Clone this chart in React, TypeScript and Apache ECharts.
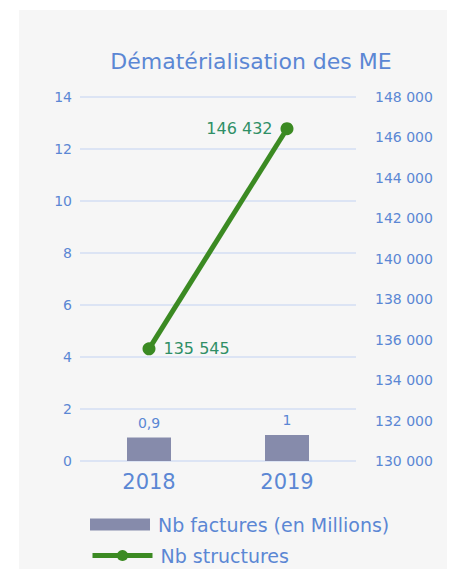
import React, { useEffect, useRef } from "react";
import * as echarts from "echarts";

const categories = ["2018", "2019"];
const factures = [0.9, 1];
const structures = [135545, 146432];
const titleText = "Dématérialisation des ME";
const barName = "Nb factures (en Millions)";
const lineName = "Nb structures";

const BLUE = "#5b87d4";
const GREEN = "#3b8a22";
const FONT = "DejaVu Sans, Verdana, sans-serif";

const fmtThousands = (v: number) =>
  String(Math.round(v)).replace(/\B(?=(\d{3})+(?!\d))/g, " ");

export default function App() {
  const ref = useRef<HTMLDivElement>(null);
  useEffect(() => {
    if (!ref.current) return;
    const chart = echarts.init(ref.current, undefined, { renderer: "svg" });
    const legendText = { color: BLUE, fontSize: 19, fontFamily: FONT, padding: [0, 0, 0, 3] };
    chart.setOption({
      animation: false,
      textStyle: { fontFamily: FONT },
      graphic: [
        {
          type: "rect",
          shape: { x: 19, y: 10, width: 428, height: 570 },
          style: { fill: "#f6f6f6" },
          z: -10,
        },
      ],
      title: {
        text: titleText,
        left: 246,
        top: 45,
        textAlign: "center",
        textStyle: { color: BLUE, fontSize: 22, fontWeight: "normal", fontFamily: FONT },
      },
      grid: { left: 80, right: 99, top: 97, bottom: 108, containLabel: false },
      legend: [
        {
          left: 90,
          top: 515,
          padding: 0,
          itemWidth: 60,
          itemHeight: 12,
          textStyle: legendText,
          data: [{ name: barName, icon: "rect" }],
        },
        {
          left: 90,
          top: 546,
          padding: 0,
          itemWidth: 60,
          itemHeight: 14,
          textStyle: legendText,
          data: [
            {
              name: lineName,
              lineStyle: { color: GREEN, width: 5 },
              itemStyle: { color: GREEN },
            },
          ],
        },
      ],
      xAxis: {
        type: "category",
        data: categories,
        axisLine: { show: false },
        axisTick: { show: false },
        axisLabel: { color: BLUE, fontSize: 21, margin: 10, fontFamily: FONT },
      },
      yAxis: [
        {
          type: "value",
          min: 0,
          max: 14,
          interval: 2,
          axisLine: { show: false },
          axisTick: { show: false },
          axisLabel: { color: BLUE, fontSize: 14, margin: 8, fontFamily: FONT },
          splitLine: { lineStyle: { color: "#dce4f4", width: 2 } },
        },
        {
          type: "value",
          min: 130000,
          max: 148000,
          interval: 2000,
          axisLine: { show: false },
          axisTick: { show: false },
          axisLabel: {
            color: BLUE,
            fontSize: 14,
            margin: 19,
            fontFamily: FONT,
            formatter: (v: number) => fmtThousands(v),
          },
          splitLine: { show: false },
        },
      ],
      series: [
        {
          name: barName,
          type: "bar",
          data: factures,
          yAxisIndex: 0,
          barWidth: 44,
          itemStyle: { color: "#868bab" },
          label: {
            show: true,
            position: "top",
            distance: 8,
            color: BLUE,
            fontSize: 14,
            fontFamily: FONT,
            formatter: (p: any) => String(p.value).replace(".", ","),
          },
        },
        {
          name: lineName,
          type: "line",
          yAxisIndex: 1,
          data: structures.map((v, i) => ({
            value: v,
            label: { position: i === 0 ? "right" : "left" },
          })),
          symbol: "circle",
          symbolSize: 13,
          lineStyle: { color: GREEN, width: 5 },
          itemStyle: { color: GREEN },
          label: {
            show: true,
            color: "#2f8f66",
            fontSize: 16,
            distance: 8,
            fontFamily: FONT,
            formatter: (p: any) => fmtThousands(p.value),
          },
        },
      ],
    });
    return () => chart.dispose();
  }, []);
  return (
    <div
      ref={ref}
      style={{ position: "fixed", left: 0, top: 0, width: 455, height: 569, background: "#ffffff" }}
    />
  );
}
